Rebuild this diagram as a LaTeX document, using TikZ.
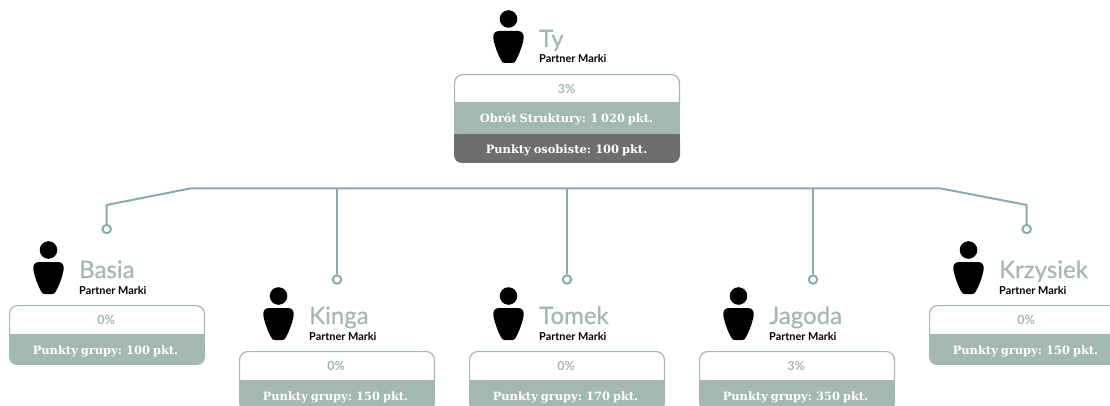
\documentclass[tikz,border=0pt]{standalone}
\usepackage{fontspec}
\setmainfont{Lato}
\newfontfamily\slabfont[WordSpace=0.72]{DejaVu Serif}
\newfontfamily\namefont[FakeBold=0.6]{Lato}
\definecolor{sage}{HTML}{A3B8AF}
\definecolor{darkrow}{HTML}{6E6E6C}
\definecolor{linkc}{HTML}{87ABAE}
\tikzset{
  x=1pt,y=-1pt,
  nametext/.style={anchor=base west,inner sep=0,text=sage,font=\namefont\fontsize{24}{24}\selectfont},
  roletext/.style={anchor=base west,inner sep=0,text=black,font=\fontsize{10.9}{11}\selectfont\bfseries},
  pcttext/.style={inner sep=0,text=sage,font=\fontsize{12.5}{12}\selectfont\bfseries},
  rowtext/.style={inner sep=0,text=white,font=\slabfont\fontsize{11.45}{11}\selectfont\bfseries},
  ring/.style={circle,draw=linkc,fill=white,line width=2pt,minimum size=8.4pt,inner sep=0},
  link/.style={draw=linkc,line width=2pt,line join=round},
}
% #1 id, #2 name-left x, #3 box top y, #4 name
\newcommand{\personcard}[4]{%
  \fill[black] (#2-30.5,#3-55) circle (8.8);
  \fill[black] (#2-40,#3-43) .. controls (#2-44.5,#3-43) and (#2-46,#3-39.5) .. (#2-45.7,#3-36)
     .. controls (#2-45,#3-30) and (#2-41,#3-19) .. (#2-38,#3-14)
     .. controls (#2-37,#3-11.5) and (#2-36,#3-11) .. (#2-34,#3-11)
     -- (#2-27,#3-11) .. controls (#2-25,#3-11) and (#2-24,#3-11.5) .. (#2-23,#3-14)
     .. controls (#2-20,#3-19) and (#2-16,#3-30) .. (#2-15.3,#3-36)
     .. controls (#2-15,#3-39.5) and (#2-16.5,#3-43) .. (#2-21,#3-43) -- cycle;
  \node[nametext] (#1name) at (#2,#3-27) {#4};
  \node[roletext] (#1role) at (#2,#3-11) {Partner Marki};
}
\begin{document}
\begin{tikzpicture}
\useasboundingbox (0,0) rectangle (1110,406);
\clip (0,0) rectangle (1110,406);
% top card
\personcard{ty}{539}{74}{Ty}
\draw[sage,line width=1.2pt,fill=white,rounded corners=8] (454.6,103) -- (454.6,74.6) -- (679.4,74.6) -- (679.4,103);
\fill[sage] (454,102) rectangle (680,134);
\fill[darkrow,rounded corners=8] (454,134) -- (454,163) -- (680,163) -- (680,134) -- cycle;
\fill[darkrow] (454,134) rectangle (680,145);
\node[pcttext] (typct) at (566.5,88.5) {3\%};
\node[rowtext] (tyturn) at (566.5,119.5) {Obrót Struktury: 1 020 pkt.};
\node[rowtext] (typts) at (566.5,150) {Punkty osobiste: 100 pkt.};
% child cards
\foreach \id/\nx/\top/\nm/\pc/\pts in {a/79/305/Basia/0/100,b/309/351/Kinga/0/150,c/539/351/Tomek/0/170,d/769/351/Jagoda/3/350,e/999/305/Krzysiek/0/150}{
  \personcard{\id}{\nx}{\top}{\nm}
  \draw[sage,line width=1.2pt,fill=white,rounded corners=8] (\nx-69.4,\top+30) -- (\nx-69.4,\top+0.6) -- (\nx+125.4,\top+0.6) -- (\nx+125.4,\top+30);
  \fill[sage,rounded corners=8] (\nx-70,\top+29) -- (\nx-70,\top+60) -- (\nx+126,\top+60) -- (\nx+126,\top+29) -- cycle;
  \fill[sage] (\nx-70,\top+29) rectangle (\nx+126,\top+40);
  \node[pcttext] (\id pctv) at (\nx+27,\top+14.5) {\pc\%};
  \node[rowtext] (\id pts) at (\nx+26.5,\top+46) {Punkty grupy: \pts\ pkt.};
}
% connectors
\coordinate (jl) at (190,188.5);
\coordinate (jr) at (941,188.5);
\coordinate (ea) at (106.7,205);
\coordinate (ee) at (1026.7,205);
\coordinate (jb) at (337,188.5);
\coordinate (jc) at (567,188.5);
\coordinate (jd) at (813,188.5);
\node[ring] (ra) at (106.7,229) {};
\node[ring] (rb) at (337,279.5) {};
\node[ring] (rc) at (567,279.5) {};
\node[ring] (rd) at (813,279.5) {};
\node[ring] (re) at (1026.7,229) {};
\draw[link] (ra) -- (ea) -- (jl) -- (jr) -- (ee) -- (re);
\draw[link] (jb) -- (rb);
\draw[link] (jc) -- (rc);
\draw[link] (jd) -- (rd);
\end{tikzpicture}
\end{document}
